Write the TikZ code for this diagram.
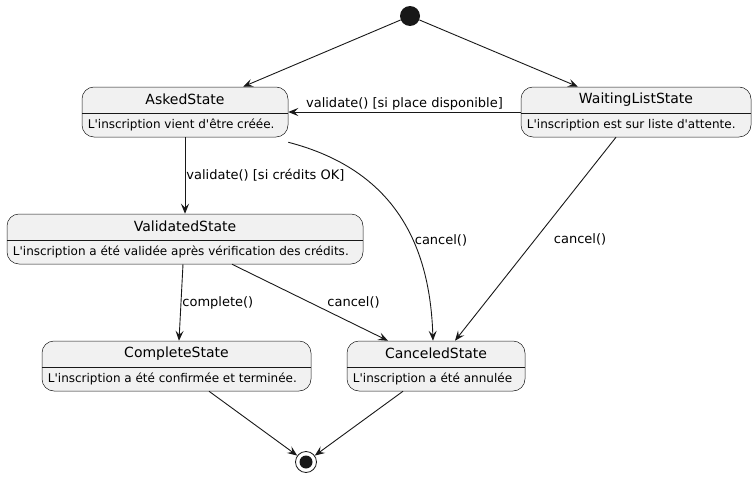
\documentclass[tikz,border=0pt]{standalone}
\usepackage{fontspec}
\setmainfont{DejaVu Sans}
\usetikzlibrary{arrows.meta,calc}
\definecolor{statefill}{HTML}{F1F1F1}
\definecolor{stateline}{HTML}{181818}
\tikzset{
    statebox/.style={draw=stateline, line width=0.5pt, fill=statefill, rounded corners=12pt, minimum height=50pt, inner sep=0pt},
    statetitle/.style={font=\fontsize{14}{16}\selectfont, inner sep=0pt},
    statedesc/.style={font=\fontsize{12}{14}\selectfont, inner sep=0pt, anchor=west},
    trans/.style={draw=stateline, line width=0.9pt, -{Stealth[length=10pt, width=8pt, inset=4pt]}},
    translabel/.style={font=\fontsize{13}{15}\selectfont, inner sep=1pt}
}
\newcommand{\q}{\textquotesingle}
% one state: name, centre, width, title, text
\newcommand{\umlstate}[5]{
    \node[statebox, minimum width=#3] (#1) at #2 {};
    \node[statetitle] (#1-t) at ([yshift=-13pt]#1.north) {#4};
    \node[statedesc] (#1-d) at ([xshift=6pt, yshift=12pt]#1.south west) {#5};
    \draw[stateline, line width=0.5pt] ([yshift=-26pt]#1.north west) -- ([yshift=-26pt]#1.north east);
}
\begin{document}
\begin{tikzpicture}[x=1pt, y=-1pt]
    \useasboundingbox (0, 0) rectangle (756, 479);
    % start and end
    \node[circle, fill=stateline, minimum size=20pt, inner sep=0pt] (start) at (410, 16) {};
    \node[circle, draw=stateline, line width=0.8pt, minimum size=21pt, inner sep=0pt] (stop) at (306, 462) {};
    \node[circle, fill=stateline, minimum size=13pt, inner sep=0pt] (stop-in) at (stop) {};
    % states
    \umlstate{asked}{(185, 112)}{206pt}{AskedState}{L\q inscription vient d\q être créée.}
    \umlstate{waiting}{(636, 112)}{230pt}{WaitingListState}{L\q inscription est sur liste d\q attente.}
    \umlstate{validated}{(185, 239)}{356pt}{ValidatedState}{L\q inscription a été validée après vérification des crédits.}
    \umlstate{complete}{(176.5, 366)}{269pt}{CompleteState}{L\q inscription a été confirmée et terminée.}
    \umlstate{canceled}{(436, 366)}{178pt}{CanceledState}{L\q inscription a été annulée}
    % transitions
    \draw[trans] (start) -- ([xshift=58pt]asked.north);
    \draw[trans] (start) -- ([xshift=-58pt]waiting.north);
    \draw[trans] (waiting.west) -- node[translabel, above] {validate() [si place disponible]} (asked.east);
    \draw[trans] (asked.south) -- node[translabel, right] {validate() [si crédits OK]} (validated.north);
    \draw[trans] ([yshift=-5pt]asked.south east) .. controls (395, 170) and (430, 245) .. ([xshift=-3pt]canceled.north);
    \node[translabel] (lcancel1) at (441, 240) {cancel()};
    \draw[trans] ([xshift=-20pt]waiting.south) -- node[translabel, anchor=west, xshift=17pt] {cancel()} ([xshift=19pt]canceled.north);
    \draw[trans] ([xshift=-2pt]validated.south) -- node[translabel, right] {complete()} ([xshift=2.5pt]complete.north);
    \draw[trans] ([xshift=47pt]validated.south) -- node[translabel, anchor=west, xshift=16pt] {cancel()} ([xshift=-48pt]canceled.north);
    \draw[trans] ([xshift=32.5pt]complete.south) -- (stop);
    \draw[trans] ([xshift=-33pt]canceled.south) -- (stop);
\end{tikzpicture}
\end{document}
